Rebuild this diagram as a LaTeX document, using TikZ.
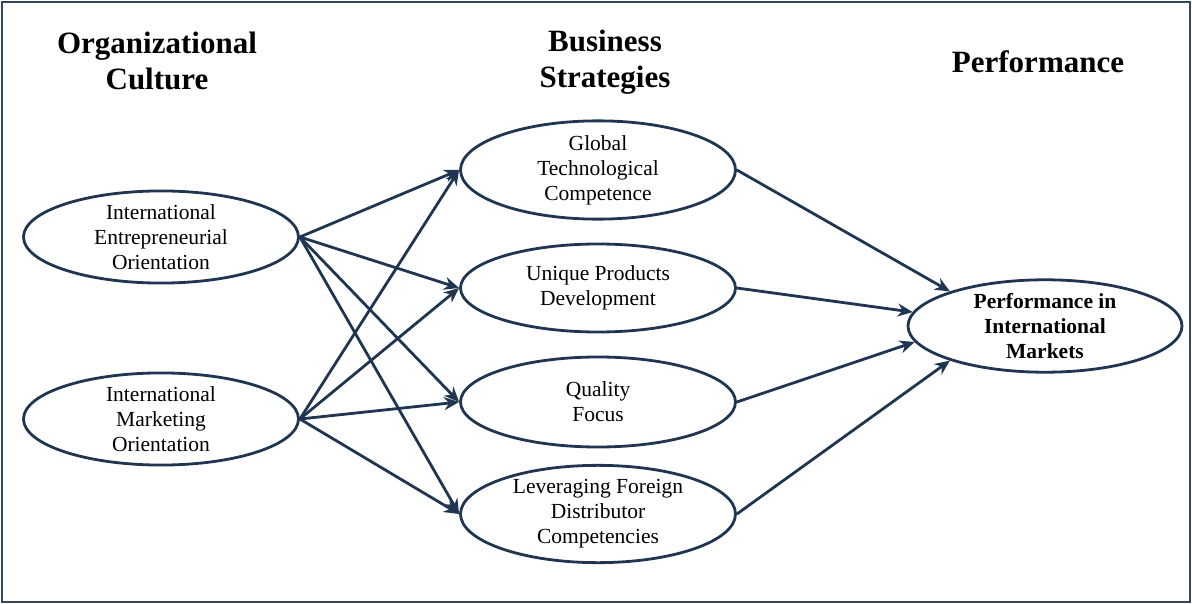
\documentclass[tikz,border=0pt]{standalone}
\usepackage{fontspec}
\setmainfont{Liberation Serif}
\usetikzlibrary{shapes.geometric,arrows.meta}
\definecolor{navy}{HTML}{1F3551}
\definecolor{frame}{HTML}{34465E}
\begin{document}
\begin{tikzpicture}[x=1pt,y=-1pt,
  construct/.style={ellipse,draw=navy,line width=2.8pt,inner sep=0pt,
    minimum width=275pt,minimum height=90pt,align=center,
    font=\fontsize{21.5}{25}\selectfont},
  heading/.style={align=center,font=\fontsize{31}{36}\selectfont\bfseries},
  link/.style={draw=navy,line width=2.8pt,-{Stealth[length=15pt,width=13pt]}}]
\useasboundingbox (0,0) rectangle (1192,604);
\draw[frame,line width=2.8pt] (2,2) rectangle (1190,602);

% column headings
\node[heading] (hc) at (157,61) {Organizational\\Culture};
\node[heading] (hs) at (605,62) {Business\\Strategies};
\node[heading] (hp) at (1038,62) {Performance};

% organizational culture
\node[construct] (ieo) at (161,237) {International\\Entrepreneurial\\Orientation};
\node[construct] (imo) at (161,419) {International\\Marketing\\Orientation};

% business strategies
\node[construct] (gtc) at (598,170) {Global\\Technological\\Competence};
\node[construct,minimum height=88pt] (upd) at (598,288) {Unique Products\\Development};
\node[construct] (qf) at (598,402) {Quality\\Focus};
\node[construct,minimum height=88pt] (lfd) at (598,514) {Leveraging Foreign\\Distributor\\Competencies};

% performance
\node[construct,minimum width=274pt,minimum height=88pt,
  font=\fontsize{21.5}{25}\selectfont\bfseries] (pim) at (1045,326)
  {Performance in\\International\\Markets};

% culture -> strategies
\foreach \s in {gtc,upd,qf,lfd}{
  \draw[link] (ieo.east) -- (\s.west);
  \draw[link] (imo.east) -- (\s.west);
}

% strategies -> performance
\draw[link] (gtc.east) -- (pim.160);
\draw[link] (upd.east) -- (pim.174);
\draw[link] (qf.east) -- (pim.187);
\draw[link] (lfd.east) -- (pim.200);
\end{tikzpicture}
\end{document}
